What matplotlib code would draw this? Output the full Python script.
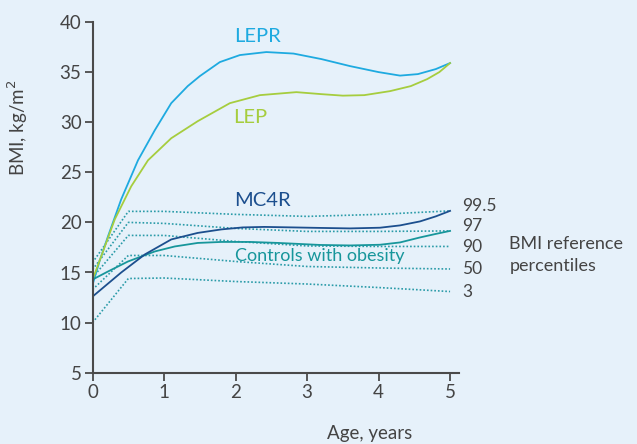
import matplotlib.pyplot as plt

# curves (age in years, BMI kg/m2)
lepr_x = [0, 0.1, 0.215, 0.4, 0.635, 0.87, 1.1, 1.33, 1.5, 1.78, 2.06, 2.43, 2.81, 3.2, 3.6, 4.0, 4.3, 4.55, 4.8, 5.0]
lepr_y = [13.8, 16.2, 18.6, 22.3, 26.2, 29.2, 31.9, 33.6, 34.6, 36.0, 36.7, 37.0, 36.85, 36.3, 35.6, 35.0, 34.65, 34.8, 35.3, 35.9]

lep_x = [0, 0.12, 0.31, 0.54, 0.775, 1.1, 1.47, 1.92, 2.34, 2.85, 3.2, 3.5, 3.8, 4.16, 4.45, 4.68, 4.85, 5.0]
lep_y = [14.3, 16.6, 20.3, 23.6, 26.2, 28.4, 30.1, 31.9, 32.7, 33.0, 32.8, 32.65, 32.7, 33.1, 33.6, 34.3, 35.0, 35.9]

mc4r_x = [0, 0.4, 0.73, 1.1, 1.47, 1.8, 2.1, 2.4, 2.8, 3.18, 3.6, 4.02, 4.3, 4.58, 4.8, 5.0]
mc4r_y = [12.6, 15.0, 16.8, 18.3, 18.95, 19.3, 19.5, 19.55, 19.5, 19.45, 19.4, 19.47, 19.7, 20.1, 20.6, 21.15]

ctrl_x = [0, 0.215, 0.495, 0.87, 1.15, 1.47, 1.8, 2.2, 2.6, 3.18, 3.6, 4.02, 4.3, 4.58, 4.8, 5.0]
ctrl_y = [14.3, 15.1, 16.1, 17.1, 17.6, 17.95, 18.05, 18.05, 17.95, 17.75, 17.7, 17.77, 18.0, 18.5, 18.85, 19.15]

# BMI reference percentiles
pct_x = [0, 0.5, 1.0, 2.0, 3.0, 4.0, 5.0]
pct_labels = ["99.5", "97", "90", "50", "3"]
pct_y = [
    [16.0, 21.1, 21.1, 20.8, 20.6, 20.8, 21.15],
    [15.3, 20.0, 19.9, 19.4, 19.1, 19.1, 19.15],
    [14.5, 18.7, 18.7, 18.1, 17.65, 17.6, 17.6],
    [13.3, 16.7, 16.7, 16.1, 15.6, 15.45, 15.35],
    [10.0, 14.4, 14.45, 14.1, 13.85, 13.5, 13.1],
]

BG = "#e6f1fa"
AXC = "#4a4a4a"
TXT = "#444444"
C_LEPR = "#1eaae0"
C_LEP = "#a6cd3e"
C_MC4R = "#1c4f8e"
C_CTRL = "#17969b"
C_PCT = "#2a9ba8"

plt.rcParams['font.family'] = ['Lato', 'DejaVu Sans']

fig = plt.figure(figsize=(6.37, 4.44), dpi=100, facecolor=BG)
ax = fig.add_axes([92.6 / 637, 1 - 372.7 / 444, 366.4 / 637, 350.7 / 444])
ax.set_facecolor(BG)

for vals in pct_y:
    ax.plot(pct_x, vals, color=C_PCT, lw=1.2, ls=(0, (1, 1.2)))

ax.plot(lepr_x, lepr_y, color=C_LEPR, lw=1.3)
ax.plot(lep_x, lep_y, color=C_LEP, lw=1.3)
ax.plot(ctrl_x, ctrl_y, color=C_CTRL, lw=1.3)
ax.plot(mc4r_x, mc4r_y, color=C_MC4R, lw=1.3)

ax.set_xlim(0, 5.125)
ax.set_ylim(5, 40)
ax.set_xticks(range(0, 6))
ax.set_yticks(range(5, 41, 5))
ax.tick_params(axis='both', direction='out', length=6, width=1.3, colors=AXC,
               labelsize=13.5, labelcolor=TXT, pad=2)
for s in ['top', 'right']:
    ax.spines[s].set_visible(False)
for s in ['left', 'bottom']:
    ax.spines[s].set_color(AXC)
    ax.spines[s].set_linewidth(1.5)

# series labels
ax.text(2.3, 38.6, "LEPR", color=C_LEPR, fontsize=14.5, ha='center', va='center')
ax.text(2.2, 30.5, "LEP", color=C_LEP, fontsize=14.5, ha='center', va='center')
ax.text(2.37, 22.2, "MC4R", color=C_MC4R, fontsize=14.5, ha='center', va='center')
ax.text(3.18, 16.6, "Controls with obesity", color=C_CTRL, fontsize=13, ha='center', va='center')

# percentile labels
for lab, yy in zip(pct_labels, [21.6, 19.6, 17.5, 15.3, 13.1]):
    ax.text(5.17, yy, lab, color=TXT, fontsize=12.5, ha='left', va='center', clip_on=False)
ax.text(5.83, 16.75, "BMI reference\npercentiles", color=TXT, fontsize=13, ha='left',
        va='center', linespacing=1.4, clip_on=False)

fig.text(370 / 637, 1 - 433 / 444, "Age, years", color=TXT, fontsize=13.5, ha='center', va='center')
fig.text(18 / 637, 1 - 128 / 444, "BMI, kg/m$^2$", color=TXT, fontsize=13.5, ha='center',
         va='center', rotation=90)

fig.savefig("out.png", dpi=100, facecolor=BG)
